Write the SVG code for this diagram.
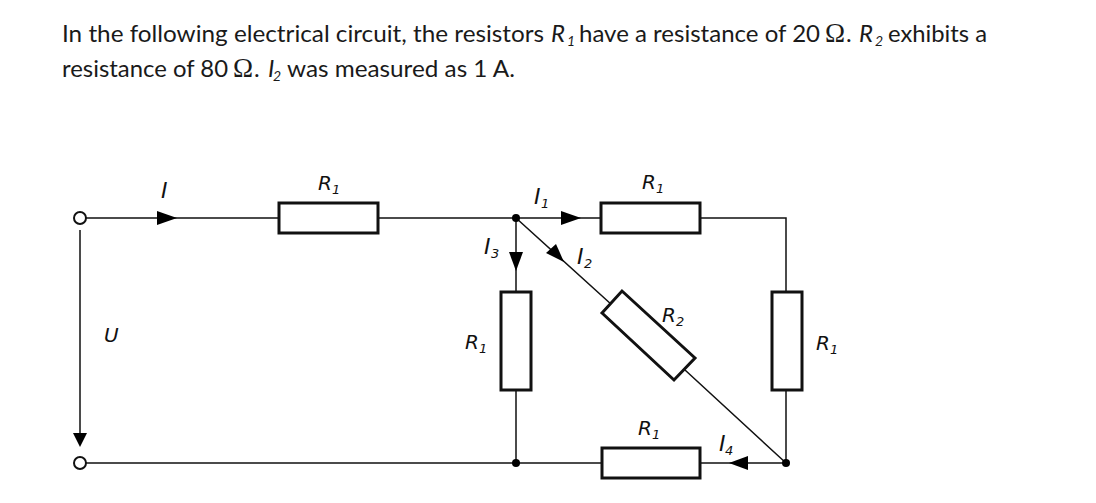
<svg xmlns="http://www.w3.org/2000/svg" width="1096" height="503" viewBox="0 0 1096 503">
<style>
.t{font-family:"Lato","Open Sans",sans-serif;font-size:24px;fill:#1a1a1a}
.i{font-style:italic}
.s{font-size:14px}
.o{font-family:"Liberation Serif",serif;font-size:27px;fill:#1a1a1a}
.l{font-family:"DejaVu Sans",sans-serif;font-style:italic;font-size:20px;fill:#111}
.j{font-size:22px}
.b{font-size:13px}
.w{fill:none;stroke:#111;stroke-width:1.5}
.r{fill:#fff;stroke:#111;stroke-width:3;stroke-linejoin:miter}
.a{fill:#000;stroke:none}
.d{fill:#000}
.c{fill:#fff;stroke:#111;stroke-width:2}
</style>
<rect width="1096" height="503" fill="#fff"/>
<g id="caption">
<text class="t" x="62" y="42" textLength="482" lengthAdjust="spacingAndGlyphs">In the following electrical circuit, the resistors</text>
<text class="t i" x="551" y="42">R</text><text class="t i s" x="567" y="46">1</text>
<text class="t" x="579" y="42" textLength="241" lengthAdjust="spacingAndGlyphs">have a resistance of 20</text>
<text class="o" x="825" y="42">Ω</text><text class="t" x="846" y="42">.</text>
<text class="t i" x="859" y="42">R</text><text class="t i s" x="875" y="46">2</text>
<text class="t" x="888" y="42" textLength="99" lengthAdjust="spacingAndGlyphs">exhibits a</text>
<text class="t" x="62" y="77" textLength="166" lengthAdjust="spacingAndGlyphs">resistance of 80</text>
<text class="o" x="233" y="77">Ω</text><text class="t" x="254" y="77">.</text>
<text class="t i" x="268" y="77">I</text><text class="t i s" x="273" y="81">2</text>
<text class="t" x="287" y="77" textLength="228" lengthAdjust="spacingAndGlyphs">was measured as 1 A.</text>
</g>
<g id="connectors">
<path class="w" d="M86 218H279M378 218H601M700 218H786V291M786 390V463M516 218V292M516 390V463M86 463H602M700 463H786M80 230V434M516 218L612 305M685 370L786 463"/>
<path class="a" d="M157 211L177 218L157 225Z"/>
<path class="a" d="M561 211L581 218L561 225Z"/>
<path class="a" d="M509 252L516 271L523 252Z"/>
<path class="a" d="M564 262L546 253L556 244Z"/>
<path class="a" d="M729 463L748 456V470Z"/>
<path class="a" d="M73 433H87L80 447Z"/>
</g>
<g id="terminal-top"><circle class="c" cx="80" cy="218" r="6"/></g>
<g id="terminal-bottom"><circle class="c" cx="80" cy="463" r="6"/></g>
<g id="junction-top"><circle class="d" cx="516" cy="218" r="4"/></g>
<g id="junction-mid"><circle class="d" cx="516" cy="463" r="4"/></g>
<g id="junction-right"><circle class="d" cx="786" cy="463" r="4"/></g>
<g id="r1-left"><rect class="r" x="279" y="203" width="99" height="30"/>
<text class="l" x="318" y="190">R</text><text class="l b" x="332" y="194">1</text></g>
<g id="r1-top"><rect class="r" x="601" y="203" width="99" height="30"/>
<text class="l" x="642" y="189">R</text><text class="l b" x="656" y="193">1</text></g>
<g id="r1-mid"><rect class="r" x="501" y="292" width="30" height="98"/>
<text class="l" x="465" y="349">R</text><text class="l b" x="479" y="353">1</text></g>
<g id="r2"><path class="r" d="M602 313L622 291L695 358L674 380Z"/>
<text class="l" x="662" y="322">R</text><text class="l b" x="676" y="326">2</text></g>
<g id="r1-right"><rect class="r" x="772" y="292" width="30" height="98"/>
<text class="l" x="816" y="350">R</text><text class="l b" x="830" y="354">1</text></g>
<g id="r1-bottom"><rect class="r" x="602" y="448" width="98" height="30"/>
<text class="l" x="638" y="435">R</text><text class="l b" x="652" y="439">1</text></g>
<g id="labels">
<text class="l j" x="161" y="198">I</text>
<text class="l" x="104" y="342">U</text>
<text class="l j" x="534" y="204">I</text><text class="l b" x="541" y="208">1</text>
<text class="l j" x="484" y="254">I</text><text class="l b" x="491" y="258">3</text>
<text class="l j" x="577" y="264">I</text><text class="l b" x="584" y="268">2</text>
<text class="l j" x="719" y="451">I</text><text class="l b" x="725" y="455">4</text>
</g>
</svg>
